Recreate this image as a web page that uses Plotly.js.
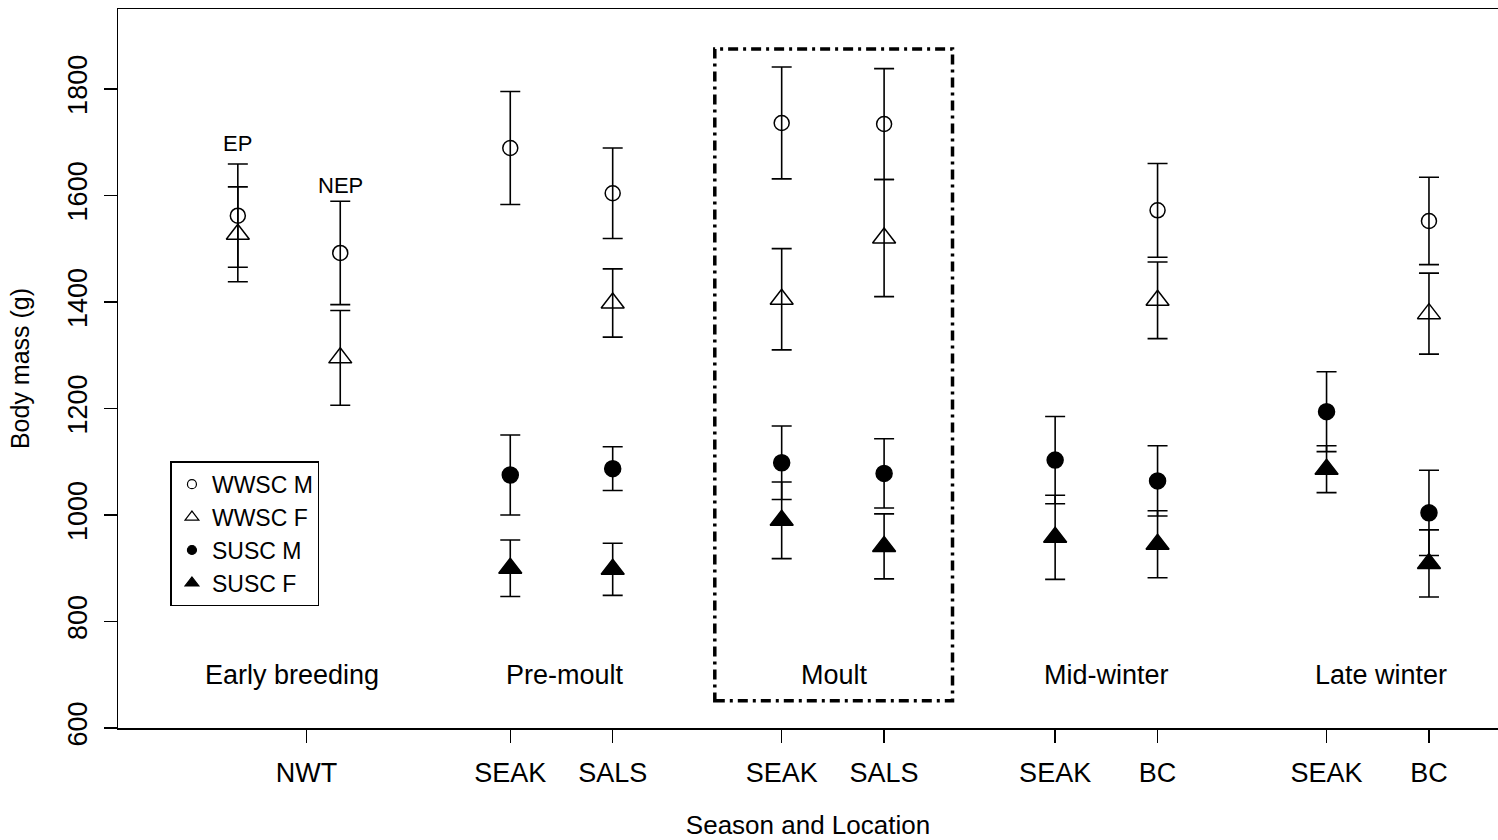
<!DOCTYPE html>
<html>
<head>
<meta charset="utf-8">
<script src="https://cdn.plot.ly/plotly-3.0.1.min.js"></script>
<style>
  html, body { margin: 0; padding: 0; background: #ffffff; }
  #chart { width: 1498px; height: 840px; }
</style>
</head>
<body>
<div id="chart"></div>
<script>
// Sampling sites along the x axis (EP / NEP are the two NWT populations)
const positions = [1.17, 2.17, 3.83, 4.83, 6.48, 7.48, 9.15, 10.15, 11.8, 12.8];

// Axis tick labels
const tickPositions = [1.84, 3.83, 4.83, 6.48, 7.48, 9.15, 10.15, 11.8, 12.8];
const tickLabels = ['NWT', 'SEAK', 'SALS', 'SEAK', 'SALS', 'SEAK', 'BC', 'SEAK', 'BC'];

// Season headings and their centres
const seasons = ['Early breeding', 'Pre-moult', 'Moult', 'Mid-winter', 'Late winter'];
const seasonCentres = [1.7, 4.36, 7.0, 9.65, 12.33];

// Population labels over the NWT sites
const populations = ['EP', 'NEP'];

// Mean body mass (g) and error (g) per site
const wwscM = [1562, 1492, 1689, 1604, 1736, 1734, null, 1572, null, 1552];
const wwscMErr = [97, 97, 106, 85, 105, 104, null, 88, null, 82];
const wwscF = [1527, 1295, null, 1398, 1405, 1520, null, 1403, null, 1378];
const wwscFErr = [89, 89, null, 64, 95, 110, null, 72, null, 76];
const suscM = [null, null, 1075, 1087, 1098, 1078, 1103, 1064, 1194, 1004];
const suscMErr = [null, null, 75, 41, 69, 65, 82, 66, 75, 80];
const suscF = [null, null, 900, 898, 990, 941, 958, 945, 1086, 909];
const suscFErr = [null, null, 53, 49, 72, 61, 79, 63, 44, 63];

// Moult period outline (x from..to, mass from..to)
const moultBox = { x0: 5.827, x1: 8.148, y0: 651, y1: 1875 };

const FONT = '"Liberation Sans", Arial, sans-serif';

const series = [
  { name: 'WWSC M', y: wwscM, err: wwscMErr, symbol: 'circle-open', size: 15, legendSize: 9 },
  { name: 'WWSC F', y: wwscF, err: wwscFErr, symbol: 'triangle-up-open', size: 20, legendSize: 12 },
  { name: 'SUSC M', y: suscM, err: suscMErr, symbol: 'circle', size: 16, legendSize: 9 },
  { name: 'SUSC F', y: suscF, err: suscFErr, symbol: 'triangle-up', size: 20, legendSize: 12 }
];

const traces = [];
series.forEach(s => {
  traces.push({
    type: 'scatter',
    mode: 'markers',
    x: positions,
    y: s.y,
    showlegend: false,
    cliponaxis: false,
    error_y: { type: 'data', array: s.err, visible: true, color: '#000', thickness: 1.6, width: 10 },
    marker: { symbol: s.symbol, size: s.size, color: '#000', line: { color: '#000', width: 1.5 } },
    hoverinfo: 'x+y'
  });
});
// Legend entries with small key symbols
series.forEach(s => {
  traces.push({
    type: 'scatter',
    mode: 'markers',
    x: [null],
    y: [null],
    name: s.name,
    showlegend: true,
    marker: { symbol: s.symbol, size: s.legendSize, color: '#000', line: { color: '#000', width: 1.2 } }
  });
});

const annotations = [];
seasons.forEach((label, i) => {
  annotations.push({
    x: seasonCentres[i], y: 700, xref: 'x', yref: 'y',
    text: label, showarrow: false,
    font: { family: FONT, size: 27, color: '#000' },
    xanchor: 'center', yanchor: 'middle'
  });
});
const populationShift = [6, 1];
populations.forEach((label, i) => {
  annotations.push({
    x: positions[i], y: wwscM[i] + wwscMErr[i], xref: 'x', yref: 'y',
    text: label, showarrow: false,
    font: { family: FONT, size: 22, color: '#000' },
    xanchor: 'center', yanchor: 'bottom', yshift: populationShift[i]
  });
});

const layout = {
  width: 1498,
  height: 840,
  margin: { l: 118, r: 0, t: 9, b: 112 },
  paper_bgcolor: '#ffffff',
  plot_bgcolor: '#ffffff',
  font: { family: FONT, color: '#000' },
  xaxis: {
    range: [0, 13.474],
    showgrid: false,
    zeroline: false,
    showline: true,
    mirror: true,
    linecolor: '#000',
    linewidth: 1.5,
    ticks: 'outside',
    ticklen: 13,
    tickwidth: 1.5,
    tickcolor: '#000',
    tickmode: 'array',
    tickvals: tickPositions,
    ticktext: tickLabels,
    tickfont: { family: FONT, size: 27, color: '#000' },
    ticklabelstandoff: 7,
    title: { text: 'Season and Location', font: { family: FONT, size: 26, color: '#000' }, standoff: 42 }
  },
  yaxis: {
    range: [600, 1950],
    showgrid: false,
    zeroline: false,
    showline: true,
    mirror: false,
    linecolor: '#000',
    linewidth: 1.5,
    ticks: 'outside',
    ticklen: 13,
    tickwidth: 1.5,
    tickcolor: '#000',
    tickmode: 'linear',
    tick0: 600,
    dtick: 200,
    tickangle: -90,
    tickfont: { family: FONT, size: 27, color: '#000' },
    ticklabelstandoff: 6,
    title: { text: 'Body mass (g)', font: { family: FONT, size: 25, color: '#000' }, standoff: 26 }
  },
  legend: {
    x: 0.038, y: 0.371, xanchor: 'left', yanchor: 'top',
    bgcolor: '#ffffff',
    bordercolor: '#000',
    borderwidth: 1.5,
    font: { family: FONT, size: 23, color: '#000' },
    itemsizing: 'trace',
    tracegroupgap: 0
  },
  shapes: [{
    type: 'rect', xref: 'x', yref: 'y',
    x0: moultBox.x0, x1: moultBox.x1, y0: moultBox.y0, y1: moultBox.y1,
    line: { color: '#000', width: 3.5, dash: '10px,5px,3px,5px' },
    fillcolor: 'rgba(0,0,0,0)'
  }],
  annotations: annotations,
  showlegend: true
};

Plotly.newPlot('chart', traces, layout, { displayModeBar: false, staticPlot: true });
</script>
</body>
</html>
